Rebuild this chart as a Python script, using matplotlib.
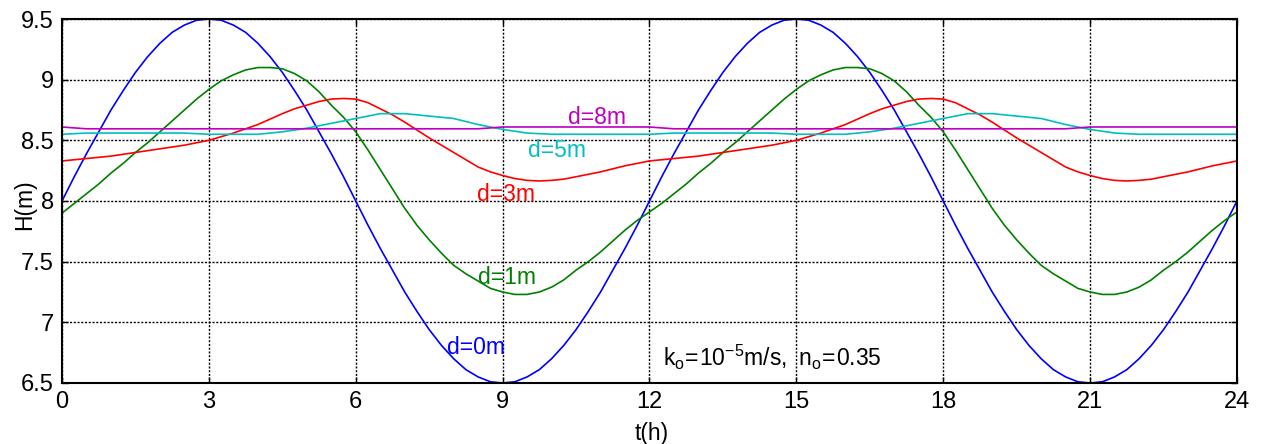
import numpy as np
import matplotlib
matplotlib.use("Agg")
import matplotlib.pyplot as plt

plt.rcParams['font.family'] = ['Liberation Sans', 'DejaVu Sans']

# one 12 h tidal cycle, every quarter hour (d=0,1,3 m)
cyc_d0 = [8.00, 8.20, 8.39, 8.57, 8.75, 8.91, 9.06, 9.19, 9.30, 9.39, 9.45, 9.49,
          9.50, 9.49, 9.45, 9.39, 9.30, 9.19, 9.06, 8.91, 8.75, 8.57, 8.39, 8.20,
          8.00, 7.80, 7.61, 7.43, 7.25, 7.09, 6.94, 6.81, 6.70, 6.61, 6.55, 6.51,
          6.50, 6.51, 6.55, 6.61, 6.70, 6.81, 6.94, 7.09, 7.25, 7.43, 7.61, 7.80, 8.00]
cyc_d1 = [7.90, 7.98, 8.06, 8.14, 8.23, 8.31, 8.40, 8.48, 8.57, 8.66, 8.75, 8.84,
          8.92, 8.99, 9.04, 9.08, 9.10, 9.10, 9.09, 9.05, 8.99, 8.90, 8.79, 8.69,
          8.57, 8.42, 8.26, 8.10, 7.94, 7.80, 7.68, 7.57, 7.47, 7.40, 7.34, 7.28,
          7.25, 7.23, 7.23, 7.25, 7.29, 7.35, 7.43, 7.50, 7.58, 7.67, 7.76, 7.84, 7.91]
cyc_d3 = [8.33, 8.34, 8.35, 8.36, 8.37, 8.385, 8.40, 8.415, 8.43, 8.445, 8.46, 8.48,
          8.50, 8.53, 8.56, 8.595, 8.63, 8.675, 8.72, 8.76, 8.79, 8.82, 8.84, 8.845,
          8.84, 8.81, 8.76, 8.71, 8.65, 8.585, 8.52, 8.46, 8.40, 8.34, 8.28, 8.24,
          8.21, 8.185, 8.17, 8.165, 8.17, 8.18, 8.20, 8.22, 8.24, 8.265, 8.29, 8.31, 8.33]
t_q = np.arange(0, 24.01, 0.25)
# the chart shows the same cycle twice (0-12 h and 12-24 h)
h_d0 = cyc_d0 + cyc_d0[1:]
h_d1 = cyc_d1 + cyc_d1[1:]
h_d3 = cyc_d3 + cyc_d3[1:]

# d=5 m and d=8 m barely move, half-hour readings are enough
t_h = np.arange(0, 24.01, 0.5)
h_d5 = [8.55, 8.56, 8.56, 8.56, 8.56, 8.56, 8.55, 8.55, 8.55, 8.57, 8.60, 8.64,
        8.68, 8.72, 8.72, 8.70, 8.68, 8.63, 8.59, 8.56, 8.55, 8.55, 8.55, 8.55,
        8.55, 8.56, 8.56, 8.56, 8.56, 8.56, 8.55, 8.55, 8.55, 8.57, 8.60, 8.64,
        8.68, 8.72, 8.72, 8.70, 8.68, 8.63, 8.59, 8.56, 8.55, 8.55, 8.55, 8.55, 8.55]
h_d8 = [8.61, 8.595, 8.595, 8.595, 8.595, 8.595, 8.595, 8.595, 8.595, 8.595, 8.595, 8.595,
        8.595, 8.595, 8.595, 8.595, 8.595, 8.595, 8.61, 8.61, 8.61, 8.61, 8.61, 8.61,
        8.61, 8.595, 8.595, 8.595, 8.595, 8.595, 8.595, 8.595, 8.595, 8.595, 8.595, 8.595,
        8.595, 8.595, 8.595, 8.595, 8.595, 8.595, 8.61, 8.61, 8.61, 8.61, 8.61, 8.61, 8.61]

labels = ['d=0m', 'd=1m', 'd=3m', 'd=5m', 'd=8m']
label_t = [7.86, 8.50, 8.47, 9.52, 10.34]
label_h = [6.79, 7.37, 8.05, 8.42, 8.69]

colors = ['#0000ff', '#008000', '#ff0000', '#00bfbf', '#bf00bf']
series = [(t_q, h_d0), (t_q, h_d1), (t_q, h_d3), (t_h, h_d5), (t_h, h_d8)]

fig = plt.figure(figsize=(12.63, 4.44), dpi=100)
ax = fig.add_axes([0.0491, 0.1374, 0.9303, 0.8198])

for (tt, h), c in zip(series, colors):
    ax.plot(tt, h, color=c, lw=1.2)

for lab, x, y, c in zip(labels, label_t, label_h, colors):
    ax.text(x, y, lab, color=c, fontsize=16.5, ha='left', va='center')

ax.text(12.28, 6.71, r'$\mathregular{k_o\!=\!10^{-5}m/s,\ n_o\!=\!0.35}$',
        fontsize=16.5, ha='left', va='center')

ax.set_xlim(0, 24)
ax.set_ylim(6.5, 9.5)
ax.set_xticks(np.arange(0, 25, 3))
ax.set_yticks([6.5, 7, 7.5, 8, 8.5, 9, 9.5])
ax.set_yticklabels(['6.5', '7', '7.5', '8', '8.5', '9', '9.5'])
ax.tick_params(direction='in', length=4, width=1, top=True, right=True,
               labelsize=17, pad=6)
ax.grid(True, color='k', linestyle=(0, (1.5, 1.2)), lw=1.0)
for s in ax.spines.values():
    s.set_linewidth(1.5)

ax.set_xlabel('t(h)', fontsize=16.5, va='center')
ax.xaxis.set_label_coords(0.502, -0.14)
ax.set_ylabel('H(m)', fontsize=16.5, va='center')
ax.yaxis.set_label_coords(-0.032, 0.49)

fig.savefig('out.png', dpi=100)
